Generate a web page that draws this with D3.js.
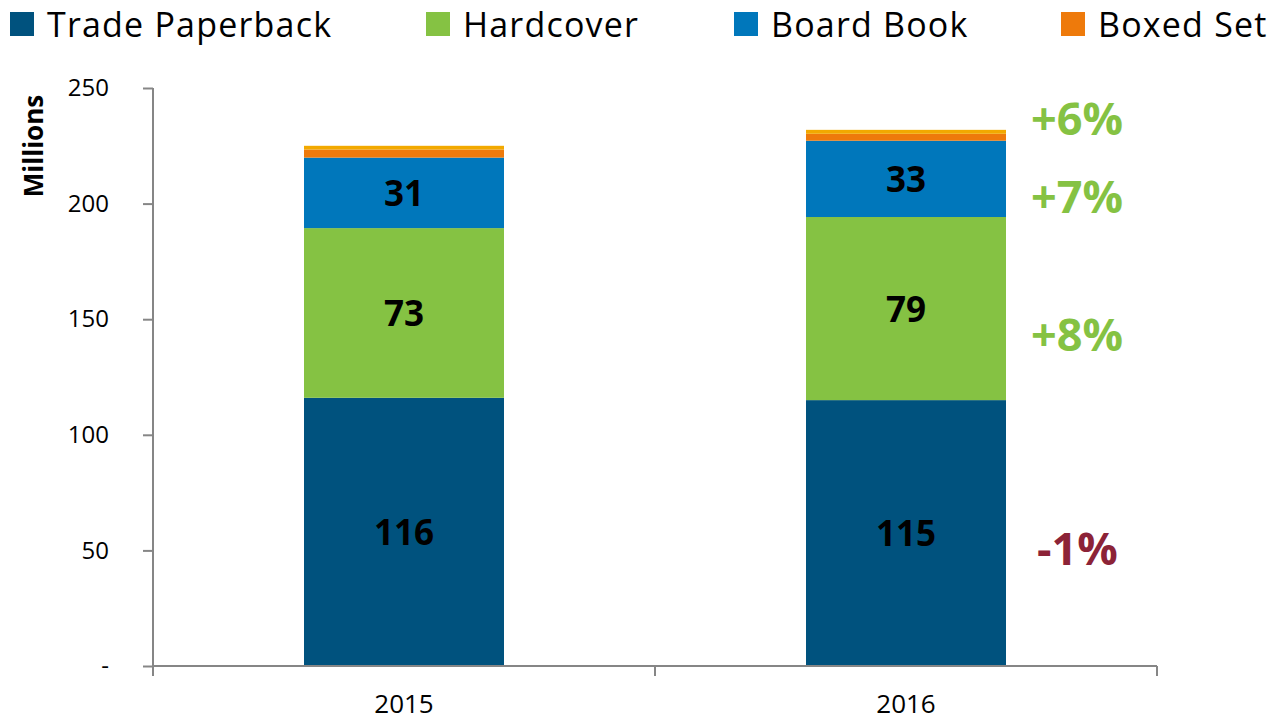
<!DOCTYPE html>
<html>
<head>
<meta charset="utf-8">
<script src="https://cdn.jsdelivr.net/npm/d3@7"></script>
<style>
  body { margin: 0; background: #fff; }
  text { font-family: "Open Sans", "Noto Sans", sans-serif; }
</style>
</head>
<body>
<script>
// chart data
var years = ["2015", "2016"];
var seriesNames = ["Trade Paperback", "Hardcover", "Board Book", "Boxed Set", "Other"];
var tradePaperback = [116, 115];
var hardcover = [73.4, 79.2];
var boardBook = [30.5, 33];
var boxedSet = [3.5, 3.0];
var other = [1.6, 1.7];
var legendNames = ["Trade Paperback", "Hardcover", "Board Book", "Boxed Set"];
var growthLabels = ["-1%", "+8%", "+7%", "+6%"];
var yTicks = [0, 50, 100, 150, 200, 250];

var COLOURS = {
	"Trade Paperback": "#00527e",
	"Hardcover": "#85c243",
	"Board Book": "#0077bb",
	"Boxed Set": "#ee7a0b",
	"Other": "#f2a900"
};

var width = 1274, height = 722;
var svg = d3.select("body").append("svg")
	.attr("width", width)
	.attr("height", height);

var rows = years.map(function(y, i) {
	return { "year": y,
	         "Trade Paperback": tradePaperback[i],
	         "Hardcover": hardcover[i],
	         "Board Book": boardBook[i],
	         "Boxed Set": boxedSet[i],
	         "Other": other[i] };
});

var x = d3.scaleBand().domain(years).range([153, 1157]).paddingInner(0.6016).paddingOuter(0.3008);
var y = d3.scaleLinear().domain([0, 250]).range([666, 88]);

var stack = d3.stack().keys(seriesNames);
var layers = stack(rows);

// bars
svg.append("g").selectAll("g")
	.data(layers)
	.enter().append("g")
	.attr("fill", function(d) { return COLOURS[d.key]; })
	.selectAll("rect")
	.data(function(d) { return d; })
	.enter().append("rect")
	.attr("x", function(d) { return x(d.data.year); })
	.attr("width", x.bandwidth())
	.attr("y", function(d) { return y(d[1]); })
	.attr("height", function(d) { return y(d[0]) - y(d[1]); });

// value labels on the first three series
var labelled = layers.slice(0, 3);
labelled.forEach(function(layer) {
	svg.append("g").selectAll("text")
		.data(layer)
		.enter().append("text")
		.attr("x", function(d) { return x(d.data.year) + x.bandwidth() / 2; })
		.attr("y", function(d) { return (y(d[0]) + y(d[1])) / 2 + 13; })
		.attr("text-anchor", "middle")
		.attr("font-size", 35)
		.attr("font-weight", "bold")
		.attr("fill", "#000")
		.text(function(d) { return Math.round(d[1] - d[0]); });
});

// y axis
var yAxis = d3.axisLeft(y).tickValues(yTicks).tickSize(10).tickPadding(34)
	.tickFormat(function(d) { return d === 0 ? "-" : d; });
var gy = svg.append("g").attr("transform", "translate(153,0)").call(yAxis);
gy.select(".domain").attr("stroke", "#868686").attr("stroke-width", 2).attr("d", "M0," + y(250) + "V" + y(0));
gy.selectAll(".tick line").attr("stroke", "#868686").attr("stroke-width", 2);
gy.selectAll(".tick text").attr("font-size", 24).attr("fill", "#000")
	.style("font-family", "'Open Sans', sans-serif");

// x axis
var step = x.step();
var bounds = [153, 153 + step, 153 + 2 * step];
svg.append("line")
	.attr("x1", 153).attr("x2", 1157)
	.attr("y1", y(0)).attr("y2", y(0))
	.attr("stroke", "#868686").attr("stroke-width", 2);
svg.append("g").selectAll("line")
	.data(bounds)
	.enter().append("line")
	.attr("x1", function(d) { return d; }).attr("x2", function(d) { return d; })
	.attr("y1", y(0)).attr("y2", y(0) + 10)
	.attr("stroke", "#868686").attr("stroke-width", 2);
svg.append("g").selectAll("text")
	.data(years)
	.enter().append("text")
	.attr("x", function(d) { return x(d) + x.bandwidth() / 2; })
	.attr("y", 713)
	.attr("text-anchor", "middle")
	.attr("font-size", 26)
	.attr("fill", "#000")
	.text(function(d) { return d; });

// axis title
svg.append("text")
	.attr("transform", "translate(43,146) rotate(-90)")
	.attr("text-anchor", "middle")
	.attr("font-size", 26)
	.attr("font-weight", "bold")
	.attr("fill", "#000")
	.text("Millions");

// growth labels, next to 2016 segments
var last = layers.map(function(l) { return l[1]; });
var growthY = [last[0], last[1], last[2]].map(function(d) {
	return (y(d[0]) + y(d[1])) / 2;
});
var growthOffsets = [32, 42, 34];
svg.append("g").selectAll("text")
	.data(growthLabels)
	.enter().append("text")
	.attr("x", function(d) { return d === "-1%" ? 1037 : 1031; })
	.attr("y", function(d, i) { return i === 3 ? 135 : growthY[i] + growthOffsets[i]; })
	.attr("font-size", 45)
	.attr("font-weight", "bold")
	.attr("fill", function(d) { return d.charAt(0) === "-" ? "#8c2337" : "#85c243"; })
	.text(function(d) { return d; });

// legend
var legendX = [10, 426, 734, 1061];
var legend = svg.append("g").selectAll("g")
	.data(legendNames)
	.enter().append("g")
	.attr("transform", function(d, i) { return "translate(" + legendX[i] + ",12)"; });
legend.append("rect")
	.attr("width", 24).attr("height", 24)
	.attr("fill", function(d) { return COLOURS[d]; });
legend.append("text")
	.attr("x", 37).attr("y", 25)
	.attr("font-size", 34)
	.attr("letter-spacing", 1.2)
	.attr("fill", "#000")
	.text(function(d) { return d; });
</script>
</body>
</html>
